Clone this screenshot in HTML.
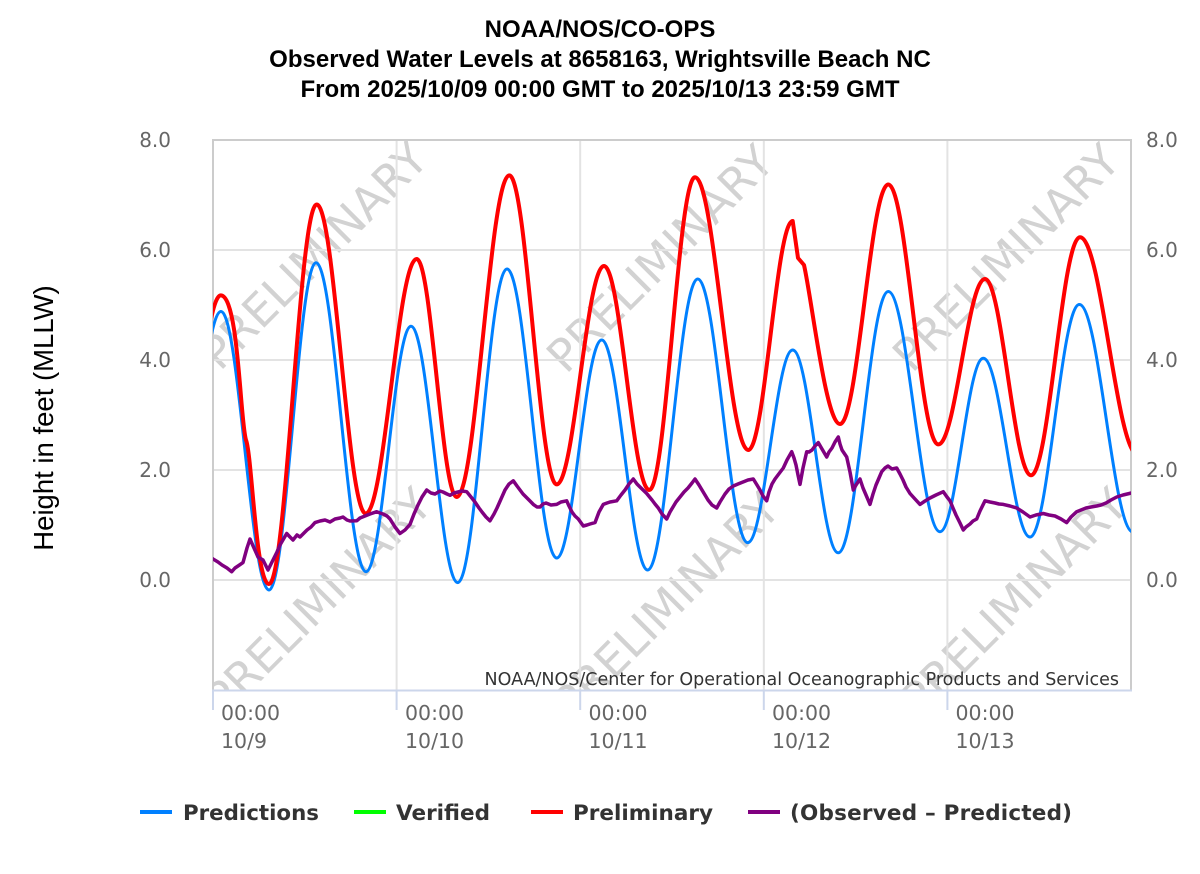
<!DOCTYPE html>
<html>
<head>
<meta charset="utf-8">
<style>
html,body{margin:0;padding:0;background:#fff;}
svg{display:block;}
</style>
</head>
<body>
<svg width="1200" height="874" viewBox="0 0 1200 874" xmlns="http://www.w3.org/2000/svg">
<rect x="0" y="0" width="1200" height="874" fill="#fff"/>
<defs>
<clipPath id="plot"><rect x="213" y="140" width="918" height="550"/></clipPath>
</defs>

<!-- Title -->
<g font-family="Liberation Sans, Arial, sans-serif" font-weight="bold" font-size="24" fill="#000" text-anchor="middle">
<text x="600" y="37">NOAA/NOS/CO-OPS</text>
<text x="600" y="67">Observed Water Levels at 8658163, Wrightsville Beach NC</text>
<text x="600" y="97">From 2025/10/09 00:00 GMT to 2025/10/13 23:59 GMT</text>
</g>

<!-- Watermark -->
<g clip-path="url(#plot)" font-family="DejaVu Sans, sans-serif" font-size="45" fill="#d2d2d2">
<text transform="translate(220,372) rotate(-45)">PRELIMINARY</text>
<text transform="translate(566,375) rotate(-45)">PRELIMINARY</text>
<text transform="translate(912,374) rotate(-45)">PRELIMINARY</text>
<text transform="translate(224,718) rotate(-45)">PRELIMINARY</text>
<text transform="translate(572,722) rotate(-45)">PRELIMINARY</text>
<text transform="translate(920,718) rotate(-45)">PRELIMINARY</text>
</g>

<!-- Grid -->
<g stroke="#e3e3e3" stroke-width="2" fill="none">
<line x1="213" y1="250" x2="1131" y2="250"/>
<line x1="213" y1="360" x2="1131" y2="360"/>
<line x1="213" y1="470" x2="1131" y2="470"/>
<line x1="213" y1="580" x2="1131" y2="580"/>
<line x1="396.6" y1="140" x2="396.6" y2="690"/>
<line x1="580.2" y1="140" x2="580.2" y2="690"/>
<line x1="763.8" y1="140" x2="763.8" y2="690"/>
<line x1="947.4" y1="140" x2="947.4" y2="690"/>
</g>
<g stroke="#cccccc" stroke-width="2" fill="none">
<line x1="213" y1="140" x2="1131" y2="140"/>
<line x1="213" y1="139" x2="213" y2="690"/>
<line x1="1131" y1="139" x2="1131" y2="690"/>
</g>
<g stroke="#ccd6eb" stroke-width="2" fill="none">
<line x1="212" y1="690.5" x2="1132" y2="690.5"/>
<line x1="213" y1="690" x2="213" y2="710"/>
<line x1="396.6" y1="690" x2="396.6" y2="710"/>
<line x1="580.2" y1="690" x2="580.2" y2="710"/>
<line x1="763.8" y1="690" x2="763.8" y2="710"/>
<line x1="947.4" y1="690" x2="947.4" y2="710"/>
</g>

<!-- Series -->
<g clip-path="url(#plot)" fill="none" stroke-linejoin="round" stroke-linecap="round">
<path stroke="#0080ff" stroke-width="3" d="M173,560 C190.8,560 203.2,311.5 221,311.5 C238.8,311.5 251.2,590 269,590 C286.4,590 298.6,262.7 316,262.7 C334.5,262.7 347.5,571.7 366,571.7 C382.7,571.7 394.4,326.3 411,326.3 C428.3,326.3 440.4,582.6 457.7,582.6 C475.9,582.6 488.8,269 507,269 C525.4,269 538.3,558 556.7,558 C573.3,558 585,340 601.7,340 C618.7,340 630.7,570 647.7,570 C666.2,570 679.2,279 697.7,279 C716.2,279 729.2,542.6 747.7,542.6 C764.4,542.6 776.1,350 792.7,350 C809.6,350 821.4,552.8 838.3,552.8 C856.8,552.8 869.8,291.5 888.3,291.5 C907.4,291.5 920.9,531.7 940,531.7 C956,531.7 967.3,358.3 983.3,358.3 C1000.6,358.3 1012.7,537 1030,537 C1048.2,537 1061.1,304.5 1079.3,304.5 C1099.2,304.5 1113.1,532 1133,532"/>
<path stroke="#ff0000" stroke-width="4" d="M175,520 C191.9,520 203.8,295.4 220.7,295.4 C238.6,295.4 240,420 246,440 C252,455 256,584 269,584 C286.6,584 299.1,204.5 316.7,204.5 C334.8,204.5 347.6,513.5 365.7,513.5 C384.6,513.5 397.8,259 416.7,259 C431.5,259 441.9,497 456.7,497 C476.2,497 489.8,175.4 509.3,175.4 C526.8,175.4 539.2,484.4 556.7,484.4 C574.2,484.4 586.5,266 604,266 C620.8,266 632.5,490 649.3,490 C666.2,490 678.1,177.3 695,177.3 C714.7,177.3 728.6,450 748.3,450 C764.7,450 776.3,221 792.7,221 L798,258 L804,265 C812,300 826,424 840,424 C857.9,424 870.4,184.5 888.3,184.5 C906.8,184.5 919.8,444.4 938.3,444.4 C955.6,444.4 967.7,279 985,279 C1002,279 1014,475.3 1031,475.3 C1049.1,475.3 1061.9,237.2 1080,237.2 C1101.5,237.2 1116.5,455 1138,455"/>
<polyline stroke="#800080" stroke-width="3.5" points="205,555 213,559 218,562 222,565 227,568 231.7,571.7 235,568 238,566 243,562.6 247,548 250,539 254,548 258,557 263,560 268,570 273,560 277,552 280,545 286.7,533.5 290,537 293,540 297,535 300,537 304,533 307,530 311,527 315,522.6 320,521 325,520 330,522 335,519 340,518 343,517 347,520 350,521 356.7,520.8 360,518 365,516 370,514 376.7,511.7 380,513 383,514 387,516 390,519 395,527 400,533.5 405,530 410,524.4 414,514 418,505 422,497 426.7,490 431,493 435,494 440,491 443,492 447,494 450,495.3 454,493 458,492 462,491 466.7,491.7 471,497 475,502 479,508 482,512 486,517 490,520.8 494,514 497,508 501,499 505,490 509,484 513.3,480.8 517,486 520,490 523,494 526,497 530,501 533.3,504.4 537,507 540,507 543,504 546,503 551,505 556.7,504.4 561,502 566.7,500.8 569,506 572,512 575,516 578.3,519 583.3,526 587,525 590,524 595,522.6 599,512 603.3,504.4 607,503 610,502 616.7,500.8 621,495 625,490 629,484 633.3,479 637,484 640,487 646.7,493.5 652,500 655,504 658.3,508 662,514 666.7,519 670,512 673,507 676,502 680,497 684,492 688,488 692,483 695,479 699,485 702,490 705,495 708,500 712,505 716.7,508 720,502 725,494 729,489 733.3,486 738,484 743,482 748,480 753.3,479 757,485 760,490 763,496 766.7,500.8 769,492 772,484 775,479 778,475 783.3,468 787,460 791.7,451.7 794,458 796,465 798,475 800,484.4 803,468 806.7,451.7 809,452 812,450 815,446 818.3,442.6 822,449 826.7,457 829,452 832,448 835,442 838.3,437 840,444 842,450 846.7,457 850,472 853.3,490 856,485 860,479 863,488 866,495 870,504.4 873,494 876,485 879,478 881.7,471.7 885,468 888,466 892,469 896.7,468 900,474 903,480 906,487 910,493.5 915,499 920,504.4 925,501 930,498 936,495 943.3,491.7 947,497 950,500.8 953,508 956,515 960,523 963.3,530 966,527 970,524 973,521 976.7,519 980,511 985,500.8 990,502 995,503 999,504 1003.3,504.4 1010,506 1016.7,508 1023,512 1030,517 1036,515 1043.3,513.5 1049,515 1055,516 1061,519 1066.7,522.6 1071,517 1076.7,511.7 1081,510 1086,508 1091,507 1096.7,506 1101,505 1106,503 1111,500 1116.7,497 1123,495 1129.3,493.5 1135,492"/>
</g>

<!-- Credits -->
<text x="1119" y="685" font-family="DejaVu Sans, sans-serif" font-size="17.5" fill="#333" text-anchor="end">NOAA/NOS/Center for Operational Oceanographic Products and Services</text>

<!-- Y axis labels -->
<g font-family="DejaVu Sans, sans-serif" font-size="20" fill="#666">
<g text-anchor="end">
<text x="171" y="147">8.0</text>
<text x="171" y="257">6.0</text>
<text x="171" y="367">4.0</text>
<text x="171" y="477">2.0</text>
<text x="171" y="587">0.0</text>
</g>
<g text-anchor="start">
<text x="1146" y="147">8.0</text>
<text x="1146" y="257">6.0</text>
<text x="1146" y="367">4.0</text>
<text x="1146" y="477">2.0</text>
<text x="1146" y="587">0.0</text>
</g>
</g>

<!-- X axis labels -->
<g font-family="DejaVu Sans, sans-serif" font-size="20.5" fill="#666">
<text x="221" y="720">00:00</text><text x="221" y="748">10/9</text>
<text x="405" y="720">00:00</text><text x="405" y="748">10/10</text>
<text x="588.5" y="720">00:00</text><text x="588.5" y="748">10/11</text>
<text x="772" y="720">00:00</text><text x="772" y="748">10/12</text>
<text x="955.5" y="720">00:00</text><text x="955.5" y="748">10/13</text>
</g>

<!-- Y axis title -->
<text transform="translate(53,418) rotate(-90)" font-family="Liberation Sans, Arial, sans-serif" font-size="27.5" fill="#000" text-anchor="middle">Height in feet (MLLW)</text>

<!-- Legend -->
<g stroke-width="4" stroke-linecap="butt">
<line x1="140" y1="812" x2="172" y2="812" stroke="#0080ff"/>
<line x1="354" y1="812" x2="386" y2="812" stroke="#00ff00"/>
<line x1="531" y1="812" x2="563" y2="812" stroke="#ff0000"/>
<line x1="748" y1="812" x2="780" y2="812" stroke="#800080"/>
</g>
<g font-family="DejaVu Sans, sans-serif" font-weight="bold" font-size="21.5" fill="#333">
<text x="183" y="820" textLength="136" lengthAdjust="spacingAndGlyphs">Predictions</text>
<text x="396" y="820" textLength="94" lengthAdjust="spacingAndGlyphs">Verified</text>
<text x="573" y="820" textLength="140" lengthAdjust="spacingAndGlyphs">Preliminary</text>
<text x="790" y="820" textLength="282" lengthAdjust="spacing">(Observed – Predicted)</text>
</g>
</svg>
</body>
</html>
